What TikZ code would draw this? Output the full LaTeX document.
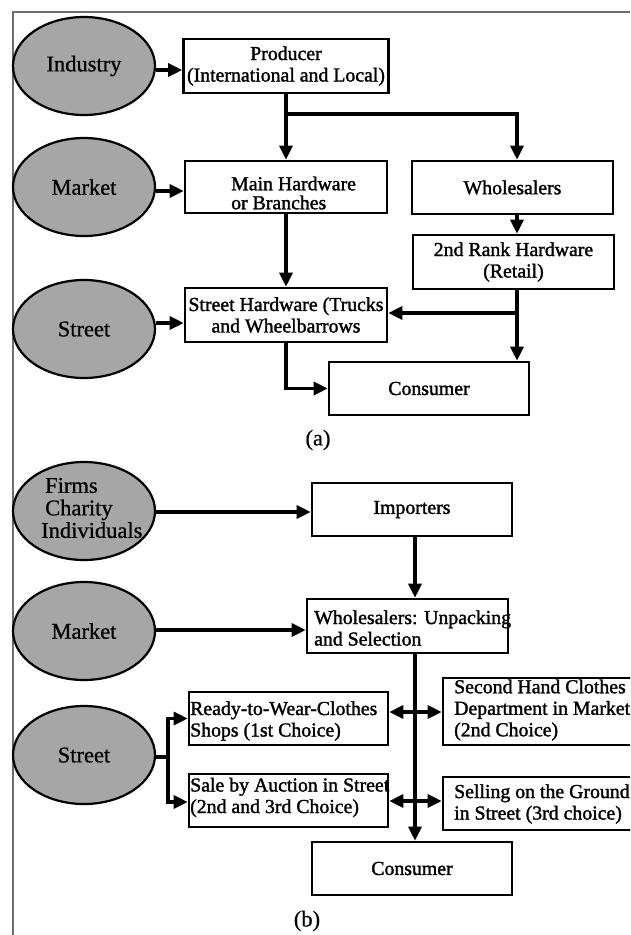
\documentclass[tikz,border=0pt]{standalone}
\usepackage{fontspec}
\setmainfont{Liberation Serif}
\newfontfamily\boxfont{Liberation Serif}[FakeBold=1.5]
\newfontfamily\ellfont{Liberation Serif}[FakeBold=0.7]
\usetikzlibrary{arrows.meta,shapes.geometric}
\definecolor{ellgray}{RGB}{166,166,166}
\definecolor{framegray}{RGB}{110,110,110}
\begin{document}
\begin{tikzpicture}[x=1pt,y=-1pt,
  ell/.style={ellipse, draw=black, line width=2.2pt, fill=ellgray, minimum width=142pt, minimum height=98pt, inner sep=0pt, font=\ellfont\fontsize{22.5}{22.5}\selectfont},
  box/.style={draw=black, line width=2.6pt, fill=white, inner sep=0pt, align=center, font=\boxfont\fontsize{19.8}{21.5}\selectfont},
  btxt/.style={inner sep=0pt, align=left, anchor=west, font=\boxfont\fontsize{19.8}{21.5}\selectfont},
  captxt/.style={inner sep=0pt, font=\ellfont\fontsize{22.5}{22.5}\selectfont},
  arr/.style={line width=3.2pt, -{Triangle[length=14pt,width=13pt]}},
  darr/.style={line width=3.2pt, {Triangle[length=14pt,width=13pt]}-{Triangle[length=14pt,width=13pt]}},
  ln/.style={line width=3.2pt},
]
\useasboundingbox (0,0) rectangle (630,935);
\clip (0,0) rectangle (630,935);
\fill[white] (0,0) rectangle (630,935);
\draw[framegray, line width=1.3pt] (13,935) -- (13,12) -- (630,12);

% helper coordinates
\coordinate (colA) at (517,0);
\coordinate (j1) at (286,114);
\coordinate (j2) at (517,313);
\coordinate (colB) at (415,0);
\coordinate (fork) at (168,757);

% ---------- (a) ----------
\node[ell] (ind) at (84,66) {Industry};
\node[ell] (mkt1) at (84,187) {Market};
\node[ell] (str1) at (84,329) {Street};

\node[box, minimum width=205pt, minimum height=54pt] (prod) at (286,66) {Producer\\(International and Local)};
\node[box, minimum width=202pt, minimum height=52pt] (mainhw) at (286,187) {};
\node[btxt, font=\boxfont\fontsize{19.8}{19}\selectfont] (mainhwT) at (231,193) {Main Hardware\\or Branches};
\node[box, minimum width=201pt, minimum height=53pt] (whole) at (512.5,187.5) {Wholesalers};
\node[box, minimum width=201pt, minimum height=54pt] (rank2) at (513.5,262) {2nd Rank Hardware\\(Retail)};
\node[box, minimum width=202pt, minimum height=54pt] (streethw) at (286,315) {Street Hardware (Trucks\\and Wheelbarrows};
\node[box, minimum width=200pt, minimum height=53pt] (cons1) at (429,388.5) {Consumer};
\node[captxt] (capA) at (318,440) {(a)};

\draw[arr] (ind.east |- 0,70) -- (prod.west |- 0,70);
\draw[arr] (mkt1.east |- 0,191) -- (mainhw.west |- 0,191);
\draw[arr] (str1.east |- 0,323) -- (streethw.west |- 0,323);
\draw[arr] (prod.south -| j1) -- (mainhw.north -| j1);
\draw[arr] (j1) -| (whole.north -| colA);
\draw[arr] (mainhw.south) -- (streethw.north);
\draw[arr] (whole.south -| colA) -- (rank2.north -| colA);
\draw[arr] (rank2.south -| colA) -- (cons1.north -| colA);
\draw[arr] (j2) -- (streethw.east |- j2);
\draw[arr] (streethw.south) |- (cons1.west);

% ---------- (b) ----------
\node[ell] (firms) at (84,511) {};
\node[btxt, font=\ellfont\fontsize{22.5}{22.5}\selectfont] (firmsT) at (41,508) {\hspace*{4pt}Firms\\\hspace*{4pt}Charity\\Individuals};
\node[ell] (mkt2) at (84,631) {Market};
\node[ell] (str2) at (84,755) {Street};

\node[box, minimum width=200pt, minimum height=53pt] (imp) at (412,509.5) {Importers};
\node[box, minimum width=201pt, minimum height=54pt] (unpack) at (407.5,626) {};
\node[btxt] (unpackT) at (314,628) {Wholesalers: Unpacking\\and Selection};
\node[box, minimum width=199pt, minimum height=53pt] (ready) at (288.5,718.5) {};
\node[btxt] (readyT) at (190,721) {Ready-to-Wear-Clothes\\Shops (1st Choice)};
\node[box, minimum width=199pt, minimum height=53pt] (sale) at (288.5,800.5) {};
\node[btxt] (saleT) at (190,797.5) {Sale by Auction in Street\\(2nd and 3rd Choice)};
\node[box, minimum width=207pt, minimum height=67pt] (second) at (546.5,711.5) {};
\node[btxt] (secondT) at (454,710) {Second Hand Clothes\\Department in Market\\(2nd Choice)};
\node[box, minimum width=207pt, minimum height=53pt] (selling) at (546.5,803.5) {};
\node[btxt] (sellingT) at (454,804) {Selling on the Ground\\in Street (3rd choice)};
\node[box, minimum width=200pt, minimum height=53pt] (cons2) at (412,868.5) {Consumer};
\node[captxt] (capB) at (307,921) {(b)};

\draw[arr] (firms.east |- 0,512) -- (imp.west |- 0,512);
\draw[arr] (imp.south -| colB) -- (unpack.north -| colB);
\draw[arr] (mkt2.east |- 0,630) -- (unpack.west |- 0,630);
\draw[arr] (unpack.south -| colB) -- (cons2.north -| colB);
\draw[darr] (ready.east |- 0,712) -- (second.west |- 0,712);
\draw[darr] (sale.east |- 0,801) -- (selling.west |- 0,801);
\draw[ln] (str2.east |- fork) -- (fork);
\draw[arr] (fork) |- (ready.west);
\draw[arr] (fork) |- (sale.west |- 0,802);
\end{tikzpicture}
\end{document}
